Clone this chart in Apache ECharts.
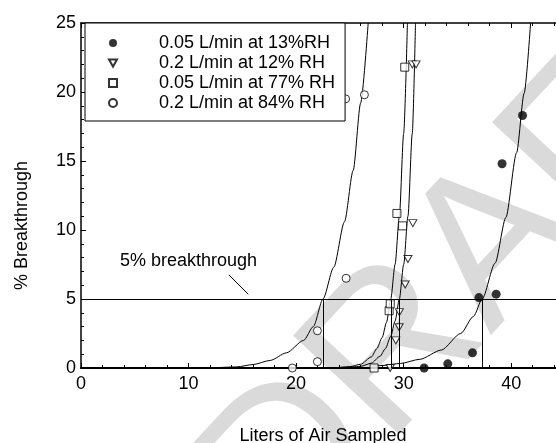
<!DOCTYPE html>
<html>
<head>
<meta charset="utf-8">
<script src="https://cdn.jsdelivr.net/npm/echarts@6/dist/echarts.min.js"></script>
<style>
  html, body { margin: 0; padding: 0; background: #fff; }
  #chart { width: 556px; height: 443px; }
</style>
</head>
<body>
<div id="chart"></div>
<script>
// legend names
const seriesNames = ['0.05 L/min at 13%RH', '0.2 L/min at 12% RH', '0.05 L/min at 77% RH', '0.2 L/min at 84% RH'];

// measured points [liters, % breakthrough]
const pts13 = [[31.9, 0], [34.1, 0.3], [36.4, 1.1], [37.0, 5.1], [38.6, 5.35], [39.15, 14.8], [41.05, 18.3]];
const pts12 = [[28.75, 0], [29.27, 2.0], [29.58, 2.95], [29.6, 4.05], [30.14, 6.05], [30.4, 7.9], [30.85, 10.5], [30.8, 22.0], [31.15, 22.0]];
const pts77 = [[27.25, 0], [28.65, 4.15], [28.75, 4.65], [29.37, 11.2], [29.9, 10.3], [30.1, 21.8]];
const pts84 = [[19.65, 0], [21.98, 0.46], [21.98, 2.7], [24.65, 6.5], [24.6, 19.5], [26.35, 19.8]];

// fitted curves
const fit13 = [[27, 0.13], [28, 0.18], [29.7, 0.33], [31.5, 0.63], [33.5, 1.3], [35.3, 2.5], [36.5, 3.75], [37.3, 5], [38.5, 7.6], [39.5, 10.9], [40.5, 15.6], [41.2, 19.9], [41.8, 25]];
const fit12 = [[24.5, 0], [26, 0.12], [27, 0.35], [27.8, 0.85], [28.3, 1.4], [28.8, 2.3], [29.2, 3.4], [29.6, 5], [30.0, 7.5], [30.4, 11], [30.8, 17], [31.1, 25]];
const fit77 = [[23.5, 0], [25, 0.1], [26, 0.27], [27, 0.8], [27.5, 1.4], [28, 2.2], [28.4, 3.3], [28.8, 5], [29.2, 7.5], [29.6, 11], [30.0, 17], [30.35, 25]];
const fit84 = [[10, 0], [12.5, 0.03], [14.5, 0.08], [16, 0.25], [17.6, 0.55], [19.1, 1.1], [20.7, 2.0], [21.6, 3.0], [22.5, 5], [23.5, 7.3], [24.5, 10.6], [25.3, 14.3], [26.0, 19.2], [26.7, 25]];

// 5% breakthrough volumes
const breakLevel = 5;
const breakVolumes = [22.5, 28.85, 29.6, 37.3];
const noteText = '5% breakthrough';
const noteAt = [10, 7.75];
const notePointer = [[13.75, 6.75], [15.55, 5.35]];

const xTicks = [0, 10, 20, 30, 40];

const font = 'Liberation Sans, Arial, sans-serif';
const chart = echarts.init(document.getElementById('chart'));

function curve(data, extra) {
  return Object.assign({
    type: 'line',
    data: data,
    showSymbol: false,
    smooth: 0.25,
    smoothMonotone: 'x',
    lineStyle: { color: '#000', width: 1 },
    silent: true,
    z: 1
  }, extra || {});
}

const refLines = [{ yAxis: breakLevel }];
breakVolumes.forEach(v => refLines.push([{ coord: [v, 0] }, { coord: [v, breakLevel] }]));
refLines.push([{ coord: notePointer[0] }, { coord: notePointer[1] }]);

const option = {
  animation: false,
  textStyle: { fontFamily: font },
  grid: { left: 81, top: 23, width: 484, bottom: 75, outerBoundsMode: 'none', containLabel: false },
  graphic: [{
    type: 'text',
    x: 480, y: 262,
    rotation: 47 * Math.PI / 180,
    z: -1,
    silent: true,
    style: {
      text: 'DRAFT',
      font: '210px Liberation Sans',
      fill: '#dadada',
      align: 'center',
      verticalAlign: 'middle'
    }
  }],
  legend: {
    data: [
      { name: seriesNames[0] },
      { name: seriesNames[1], icon: 'path://M0,0L10,0L5,9Z' },
      { name: seriesNames[2] },
      { name: seriesNames[3] }
    ],
    orient: 'vertical',
    left: 85, top: 23,
    padding: [11, 10, 9, 23],
    itemWidth: 8, itemHeight: 8, itemGap: 2,
    backgroundColor: '#fff',
    borderColor: '#000', borderWidth: 1,
    borderRadius: 0,
    selectedMode: false,
    textStyle: { fontSize: 18, color: '#000', lineHeight: 18, padding: [0, 0, 0, 37], fontFamily: font }
  },
  xAxis: [{
    type: 'value', min: 0, max: 45, interval: 10, position: 'bottom',
    name: 'Liters of Air Sampled', nameLocation: 'middle', nameGap: 59,
    nameTextStyle: { fontSize: 18, color: '#000', fontFamily: font },
    axisLine: { show: true, onZero: false, lineStyle: { color: '#000', width: 2 } },
    axisTick: { show: true, inside: true, length: 5, lineStyle: { color: '#000' } },
    minorTick: { show: true, splitNumber: 5, length: 3, lineStyle: { color: '#000' } },
    axisLabel: { fontSize: 18, color: '#000', margin: 7, fontFamily: font,
      formatter: v => (xTicks.indexOf(v) >= 0 ? String(v) : '') },
    splitLine: { show: false }
  }, {
    type: 'value', min: 0, max: 45, interval: 10, position: 'top',
    axisLine: { show: true, onZero: false, lineStyle: { color: '#000', width: 1.5 } },
    axisTick: { show: true, inside: true, length: 5, lineStyle: { color: '#000' } },
    minorTick: { show: true, splitNumber: 5, length: 3, lineStyle: { color: '#000' } },
    axisLabel: { show: false },
    splitLine: { show: false }
  }],
  yAxis: {
    type: 'value', min: 0, max: 25, interval: 5,
    name: '% Breakthrough', nameLocation: 'middle', nameGap: 50,
    nameTextStyle: { fontSize: 18, color: '#000', fontFamily: font, padding: [0, 60, 0, 0] },
    axisLine: { show: true, onZero: false, lineStyle: { color: '#000', width: 1.5 } },
    axisTick: { show: true, inside: true, length: 5, lineStyle: { color: '#000' } },
    minorTick: { show: true, splitNumber: 5, length: 3, lineStyle: { color: '#000' } },
    axisLabel: { fontSize: 18, color: '#000', margin: 5, fontFamily: font },
    splitLine: { show: false }
  },
  series: [
    curve(fit13),
    curve(fit12),
    curve(fit77),
    curve(fit84, {
      markLine: {
        silent: true, symbol: 'none', animation: false,
        label: { show: false },
        lineStyle: { color: '#000', width: 1, type: 'solid' },
        emphasis: { disabled: true },
        data: refLines
      },
      markPoint: {
        silent: true, symbol: 'circle', symbolSize: 0,
        label: { show: true, position: 'inside', formatter: noteText, color: '#000', fontSize: 18, fontFamily: font },
        data: [{ coord: noteAt }]
      }
    }),
    { name: seriesNames[0], type: 'scatter', data: pts13, symbol: 'circle', symbolSize: 9,
      itemStyle: { color: '#000' }, z: 3 },
    { name: seriesNames[1], type: 'scatter', data: pts12, symbol: 'triangle', symbolRotate: 180, symbolSize: [8, 7],
      itemStyle: { color: '#fff', borderColor: '#000', borderWidth: 1 }, z: 3 },
    { name: seriesNames[2], type: 'scatter', data: pts77, symbol: 'rect', symbolSize: 8,
      itemStyle: { color: '#fff', borderColor: '#000', borderWidth: 1 }, z: 3 },
    { name: seriesNames[3], type: 'scatter', data: pts84, symbol: 'circle', symbolSize: 8,
      itemStyle: { color: '#fff', borderColor: '#000', borderWidth: 1 }, z: 3 }
  ]
};

chart.setOption(option);
</script>
</body>
</html>
